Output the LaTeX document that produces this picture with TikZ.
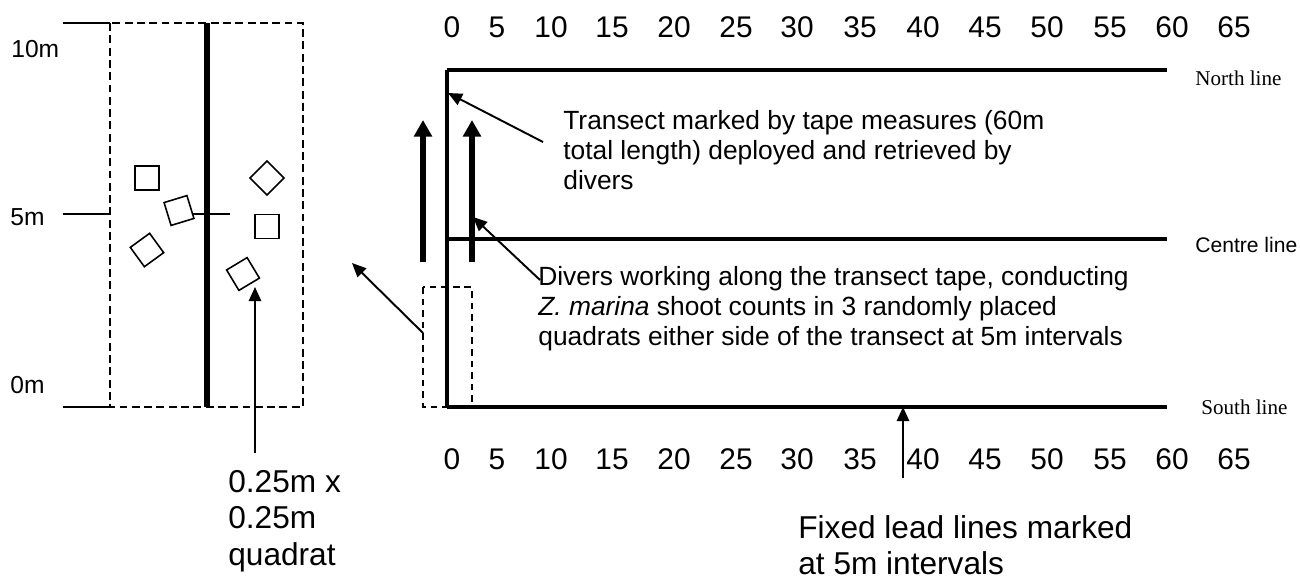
\documentclass[tikz,border=0pt]{standalone}
\usepackage{fontspec}
\setmainfont{Liberation Sans}
\newfontfamily\timesfont{Liberation Serif}
\usetikzlibrary{arrows.meta}
\usetikzlibrary{positioning}

\tikzset{
  leadline/.style={line width=1.9pt},
  tapeline/.style={line width=2.5pt},
  tick/.style={line width=0.8pt},
  bigbox/.style={line width=1.1pt, dash pattern=on 4.5pt off 2.5pt},
  smallbox/.style={line width=0.8pt, dash pattern=on 3.8pt off 2.8pt},
  pointer/.style={line width=1.1pt, -{Triangle[length=8pt,width=7pt]}},
  diverarrow/.style={line width=3.4pt, -{Triangle[length=9.5pt,width=10pt]}},
  quadrat/.style={draw, line width=0.9pt, minimum size=13.6pt, inner sep=0pt},
  note/.style={font=\fontsize{15}{17}\selectfont, align=left, anchor=north west, inner sep=0pt},
  bignote/.style={font=\fontsize{18}{20.7}\selectfont, align=left, anchor=north west, inner sep=0pt},
  scalelbl/.style={font=\fontsize{17}{20}\selectfont, inner sep=0pt, anchor=base},
  metrelbl/.style={font=\fontsize{14}{16}\selectfont, inner sep=0pt, anchor=base west},
}

\begin{document}
\begin{tikzpicture}[x=0.02cm, y=-0.02cm]
\useasboundingbox (0,0) rectangle (1300,579);

% left panel: one 10m stretch of the transect
\draw[tick] (63,23) -- (110,23);
\draw[tick] (63,214) -- (110,214);
\draw[tick] (63,407) -- (110,407);
\draw[tick] (193,214) -- (230,214);
\draw[bigbox] (110,23) rectangle (303,407);
\draw[line width=3.2pt] (207,23) -- (207,407);
\node[metrelbl] (m10) at (11,57) {10m};
\node[metrelbl] (m5) at (10,225) {5m};
\node[metrelbl] (m0) at (10,393) {0m};

\node[quadrat] (q1) at (147,178) {};
\node[quadrat, rotate=17] (q2) at (179,210.5) {};
\node[quadrat, rotate=36] (q3) at (147,250) {};
\node[quadrat, rotate=45] (q4) at (267,178) {};
\node[quadrat] (q5) at (267,226.5) {};
\node[quadrat, rotate=31] (q6) at (243,274) {};

\coordinate (quadtail) at (255,453);
\coordinate (quadtip) at (255,287);
\draw[pointer] (quadtail) -- (quadtip);
\node[bignote] (quadnote) at (228,470) {0.25m x\\0.25m\\quadrat};

% right panel: the three lead lines
\coordinate (N0) at (447,70);
\coordinate (N1) at (1167,70);
\coordinate (C0) at (447,239);
\coordinate (C1) at (1167,239);
\coordinate (S0) at (447,407);
\coordinate (S1) at (1167,407);
\draw[leadline] (N0) -- (N1);
\draw[leadline] (C0) -- (C1);
\draw[leadline] (S0) -- (S1);
\draw[tapeline] (N0) -- (S0);
\node[anchor=base west, inner sep=0pt, font=\timesfont\fontsize{12}{14}\selectfont] (north) at (1195,85) {North line};
\node[anchor=base west, inner sep=0pt, font=\fontsize{12}{14}\selectfont] (centre) at (1195,252) {Centre line};
\node[anchor=base west, inner sep=0pt, font=\timesfont\fontsize{12}{14}\selectfont] (south) at (1201,414) {South line};

\foreach \v/\x in {0/452,5/497,10/551,15/612,20/674,25/736,30/797,35/860,40/923,45/985,50/1047,55/1110,60/1172,65/1234}{
  \node[scalelbl] (top\v) at (\x,37) {\v};
  \node[scalelbl] (bot\v) at (\x,469) {\v};
}

% divers and the quadrat strip
\draw[smallbox] (423,287) rectangle (472,407);
\draw[diverarrow] (423,262) -- (423,120);
\draw[diverarrow] (472,262) -- (472,120);
\coordinate (striptail) at (423,333);
\coordinate (striptip) at (352,263);
\draw[pointer] (striptail) -- (striptip);

\node[note] (tapenote) at (563,110) {Transect marked by tape measures (60m\\total length) deployed and retrieved by\\divers};
\coordinate (tapetail) at (543,142);
\coordinate (tapetip) at (448,93);
\draw[pointer] (tapetail) -- (tapetip);

\node[note] (divernote) at (538,266) {Divers working along the transect tape, conducting\\\textit{Z. marina} shoot counts in 3 randomly placed\\quadrats either side of the transect at 5m intervals};
\coordinate (divertail) at (540,280);
\coordinate (divertip) at (473,217);
\draw[pointer] (divertail) -- (divertip);

\node[bignote] (leadnote) at (798,515) {Fixed lead lines marked\\at 5m intervals};
\coordinate (leadtail) at (903,478);
\coordinate (leadtip) at (903,407);
\draw[pointer] (leadtail) -- (leadtip);
\end{tikzpicture}
\end{document}
